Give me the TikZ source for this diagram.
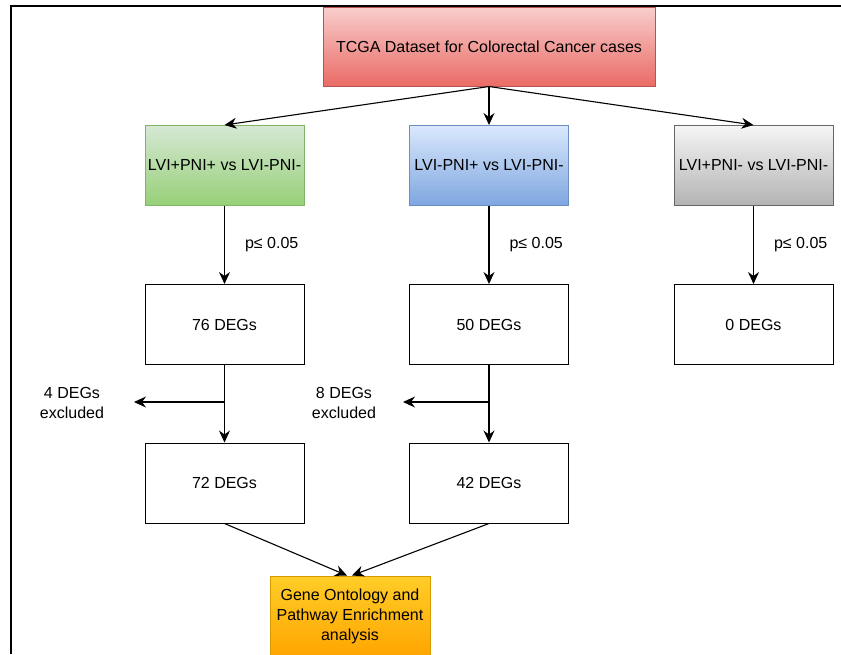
\documentclass[tikz,border=0pt]{standalone}
\usepackage{fontspec}
\setmainfont{Liberation Sans}
\usetikzlibrary{arrows.meta,positioning,calc}

\definecolor{redtop}{HTML}{F8CECC}
\definecolor{redbot}{HTML}{EA6B66}
\definecolor{redline}{HTML}{B85450}
\definecolor{greentop}{HTML}{D5E8D4}
\definecolor{greenbot}{HTML}{97D077}
\definecolor{greenline}{HTML}{82B366}
\definecolor{bluetop}{HTML}{DAE8FC}
\definecolor{bluebot}{HTML}{7EA6E0}
\definecolor{blueline}{HTML}{6C8EBF}
\definecolor{graytop}{HTML}{F5F5F5}
\definecolor{graybot}{HTML}{B3B3B3}
\definecolor{grayline}{HTML}{666666}
\definecolor{orangetop}{HTML}{FFCD28}
\definecolor{orangebot}{HTML}{FFA500}
\definecolor{orangeline}{HTML}{D79B00}

\begin{document}
\begin{tikzpicture}[x=1pt,y=-1pt,
		font=\fontsize{16}{20}\selectfont,
		box/.style={draw,line width=1pt,minimum width=159pt,minimum height=80pt,inner sep=2pt,align=center},
		arr/.style={line width=1.1pt,-{Stealth[length=12pt,width=11pt,inset=4pt]}},
		lbl/.style={align=center,inner sep=1pt}]
				\clip (0,0) rectangle (841,654);
				% frame
				\draw[line width=1.4pt] (841,6) -- (11,6) -- (11,654);
				% source
				\node[box,minimum width=332pt,minimum height=79pt,draw=redline,top color=redtop,bottom color=redbot] (tcga) at (489,46.5) {TCGA Dataset for Colorectal Cancer cases};
				% comparisons
				\node[box,draw=greenline,top color=greentop,bottom color=greenbot] (grp1) at (224.5,165.5) {LVI+PNI+ vs LVI-PNI-};
				\node[box,draw=blueline,top color=bluetop,bottom color=bluebot] (grp2) at (489,165.5) {LVI-PNI+ vs LVI-PNI-};
				\node[box,draw=grayline,top color=graytop,bottom color=graybot] (grp3) at (753.5,165.5) {LVI+PNI- vs LVI-PNI-};
				% DEG counts
				\node[box] (deg1) at (224.5,324.5) {76 DEGs};
				\node[box] (deg2) at (489,324.5) {50 DEGs};
				\node[box] (deg3) at (753.5,324.5) {0 DEGs};
				\node[box] (fin1) at (224.5,483) {72 DEGs};
				\node[box] (fin2) at (489,483) {42 DEGs};
				\node[box,minimum width=160pt,draw=orangeline,top color=orangetop,bottom color=orangebot] (enrich) at (350,616) {Gene Ontology and\\Pathway Enrichment\\analysis};
				% excluded
				\node[lbl] (exc1) at (72,403) {4 DEGs\\excluded};
				\node[lbl] (exc2) at (344,403) {8 DEGs\\excluded};
				\coordinate (out1) at (134,402);
				\coordinate (out2) at (403,402);

				\foreach \n in {1,2,3}
				    \draw[arr] (tcga.south) -- (grp\n.north);
				\foreach \n in {1,2,3}
				    \draw[arr] (grp\n) -- node[right=19pt,lbl] {p≤ 0.05} (deg\n);
				\draw[arr] (deg1) -- (fin1);
				\draw[arr] (deg2) -- (fin2);
				\draw[arr] (deg1.south |- out1) -- (out1);
				\draw[arr] (deg2.south |- out2) -- (out2);
				\draw[arr] (fin1.south) -- ([xshift=-3pt]enrich.north);
				\draw[arr] (fin2.south) -- ([xshift=2pt]enrich.north);
			\end{tikzpicture}
\end{document}
